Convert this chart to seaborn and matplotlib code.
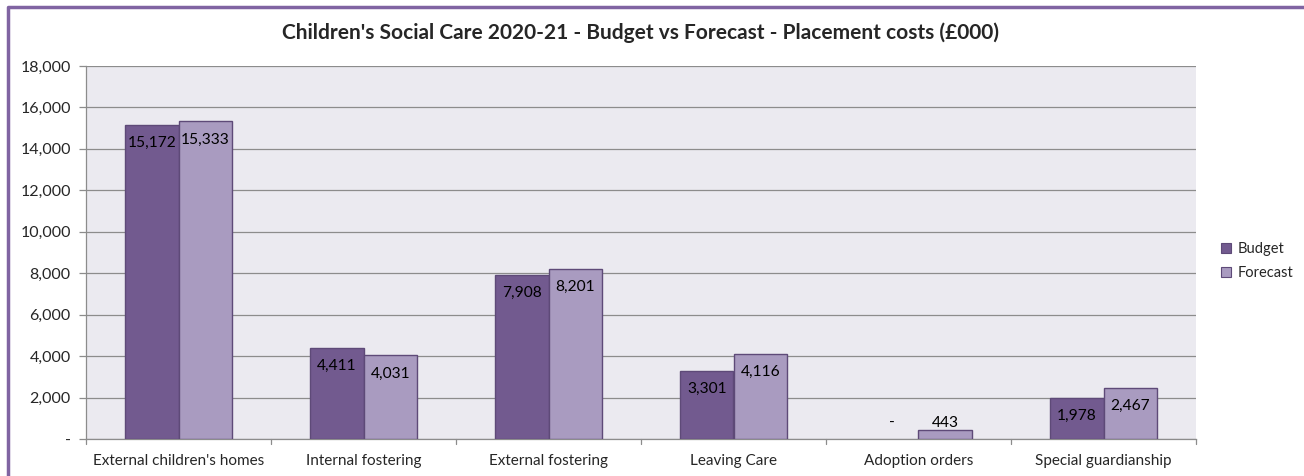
import matplotlib
matplotlib.use("Agg")
import matplotlib.pyplot as plt
import seaborn as sns
import pandas as pd
from matplotlib.lines import Line2D
from matplotlib.patches import Patch

categories = ["External children's homes", "Internal fostering", "External fostering",
              "Leaving Care", "Adoption orders", "Special guardianship"]
budget = [15172, 4411, 7908, 3301, 0, 1978]
forecast = [15333, 4031, 8201, 4116, 443, 2467]
series = ["Budget", "Forecast"]
yticks = [0, 2000, 4000, 6000, 8000, 10000, 12000, 14000, 16000, 18000]
title = "Children's Social Care 2020-21 - Budget vs Forecast - Placement costs (£000)"

df = pd.DataFrame({
    "category": categories * 2,
    "value": budget + forecast,
    "series": [series[0]] * len(categories) + [series[1]] * len(categories),
})

sns.set_theme(style="white")
plt.rcParams['font.family'] = ['Lato', 'DejaVu Sans']

W, H = 1304, 476
fig = plt.figure(figsize=(W / 100, H / 100), dpi=100)
ax = fig.add_axes([86 / W, 1 - 439 / H, (1196 - 86) / W, (439 - 66) / H])

colors = {"Budget": "#725A8F", "Forecast": "#A99BC0"}
sns.barplot(data=df, x="category", y="value", hue="series", palette=colors,
            width=0.58, gap=0, edgecolor="#5E4A78", linewidth=1.0,
            saturation=1, ax=ax, legend=False, zorder=3)

# hide outline of zero-height bars
for cont in ax.containers:
    for bar in cont:
        if bar.get_height() == 0:
            bar.set_linewidth(0)

ax.set_facecolor("#EBEAF0")
ax.set_ylim(0, 18000)
ax.set_xlim(-0.5, len(categories) - 0.5)
ax.set_yticks(yticks)
ax.set_yticklabels(["-" if v == 0 else f"{v:,}" for v in yticks], fontsize=11.5)
ax.yaxis.grid(True, color="#8C8C8C", linewidth=0.9, zorder=0)
ax.set_axisbelow(True)
ax.set_xlabel("")
ax.set_ylabel("")
ax.set_xticks(range(len(categories)))
ax.set_xticklabels(categories, fontsize=11)
ax.tick_params(axis="x", length=0, pad=11)
ax.tick_params(axis="y", length=5, width=0.9, color="#8C8C8C", left=True, pad=6)
for t in [i - 0.5 for i in range(len(categories) + 1)]:
    ax.plot([t, t], [0, -0.014], transform=ax.get_xaxis_transform(),
            color="#8C8C8C", linewidth=0.9, clip_on=False)
for s in ["top", "right"]:
    ax.spines[s].set_visible(False)
ax.spines["left"].set_color("#8C8C8C")
ax.spines["bottom"].set_color("#8C8C8C")
ax.spines["left"].set_linewidth(0.9)
ax.spines["bottom"].set_linewidth(0.9)

# data labels (inside end, clamped near baseline for short bars)
offset = 880
floor = 780
for cont, vals in zip(ax.containers, [budget, forecast]):
    for bar, v in zip(cont, vals):
        x = bar.get_x() + bar.get_width() / 2
        y = max(v - offset, floor)
        ax.text(x, y, "-" if v == 0 else f"{v:,}", ha="center", va="center",
                fontsize=11.2, color="black", zorder=5)

fig.text(641 / W, 1 - 33 / H, title, ha="center", va="center",
         fontsize=15, fontweight="bold")

handles = [Patch(facecolor=colors[s], edgecolor="#5E4A78", linewidth=0.8) for s in series]
fig.legend(handles, series, loc="center left", bbox_to_anchor=(1208 / W, 1 - 261 / H),
           frameon=False, fontsize=10.5, handlelength=0.7, handleheight=0.7,
           handletextpad=0.4, labelspacing=0.7)

# chart border
fig.add_artist(Line2D([8 / W, 8 / W, 1.01], [-0.01, 1 - 7 / H, 1 - 7 / H],
                      transform=fig.transFigure, color="#8064A2", linewidth=2.5))

fig.savefig("out.png", dpi=100, facecolor="white")
